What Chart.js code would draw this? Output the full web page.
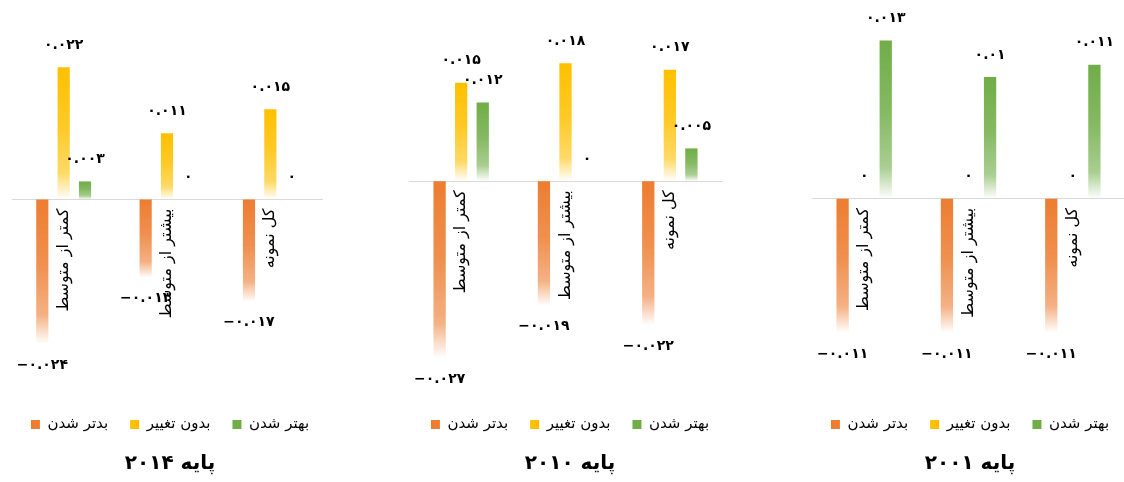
<!DOCTYPE html>
<html><head><meta charset="utf-8">
<script src="https://cdn.jsdelivr.net/npm/chart.js@4.4.1/dist/chart.umd.min.js"></script>
<style>
html,body{margin:0;padding:0;background:#fff;}
body{width:1124px;height:482px;position:relative;overflow:hidden;}
.p{position:absolute;top:0;height:482px;}
</style></head><body>
<div class="p" style="left:0px;width:340px"><canvas id="c1"></canvas></div>
<div class="p" style="left:390px;width:360px"><canvas id="c2"></canvas></div>
<div class="p" style="left:800px;width:340px"><canvas id="c3"></canvas></div>
<script>
const categories = ['کمتر از متوسط', 'بیشتر از متوسط', 'کل نمونه'];
const seriesNames = ['بدتر شدن', 'بدون تغییر', 'بهتر شدن'];
const panelTitles = ['پایه ۲۰۱۴', 'پایه ۲۰۱۰', 'پایه ۲۰۰۱'];

const worse2014  = [-0.024, -0.013, -0.017];
const same2014   = [0.022, 0.011, 0.015];
const better2014 = [0.003, 0, 0];

const worse2010  = [-0.027, -0.019, -0.022];
const same2010   = [0.015, 0.018, 0.017];
const better2010 = [0.012, 0, 0.005];

const worse2001  = [-0.011, -0.011, -0.011];
const same2001   = [0, 0, 0];
const better2001 = [0.013, 0.01, 0.011];

const yRange2014 = [-0.0325, 0.0315];
const yRange2010 = [-0.0326, 0.0261];
const yRange2001 = [-0.0161, 0.0155];

const colors = [[237,125,49],[255,192,0],[112,173,71]];
const FONT = '"DejaVu Sans", sans-serif';

function rgba(c, a){ return 'rgba(' + c[0] + ',' + c[1] + ',' + c[2] + ',' + a + ')'; }
function toFa(v){
  return String(v).replace('-', '\u2212').replace(/\d/g, d => '۰۱۲۳۴۵۶۷۸۹'[+d]);
}
function gradFill(col){
  return (c) => {
    const chart = c.chart;
    if (c.type !== 'data' || !chart.chartArea || !chart.scales.y) return rgba(col,1);
    const ys = chart.scales.y;
    const p0 = ys.getPixelForValue(0), p1 = ys.getPixelForValue(c.raw);
    const top = Math.min(p0,p1), bot = Math.max(p0,p1);
    if (bot - top < 1) return rgba(col,1);
    const g = chart.ctx.createLinearGradient(0, top, 0, bot);
    g.addColorStop(0, rgba(col,1));
    g.addColorStop(0.45, rgba(col,0.85));
    g.addColorStop(0.8, rgba(col,0.6));
    g.addColorStop(1, rgba(col,0.0));
    return g;
  };
}

const valueLabels = {
  id: 'valueLabels',
  afterDatasetsDraw(chart){
    const ctx = chart.ctx;
    ctx.save();
    ctx.font = 'bold 14px ' + FONT;
    ctx.fillStyle = '#000';
    ctx.textAlign = 'center';
    ctx.textBaseline = 'middle';
    ctx.direction = 'ltr';
    chart.data.datasets.forEach((ds, i) => {
      const meta = chart.getDatasetMeta(i);
      meta.data.forEach((bar, j) => {
        const v = ds.data[j];
        const y = v < 0 ? bar.y + 21 : bar.y - 22;
        ctx.fillText(toFa(v), bar.x, y);
      });
    });
    ctx.restore();
  }
};

function spacerAxis(pos, w){
  return {
    position: pos, display: true, min: 0, max: 1,
    grid: { display: false }, border: { display: false },
    ticks: { display: false },
    afterFit: (s) => { s.width = w; }
  };
}

function makeChart(id, worse, same, better, yRange, title, padL, padR){
  const series = [worse, same, better];
  new Chart(document.getElementById(id), {
    type: 'bar',
    data: {
      labels: categories,
      datasets: series.map((d, i) => ({
        label: seriesNames[i],
        data: d,
        backgroundColor: gradFill(colors[i]),
        borderWidth: 0,
        barPercentage: 0.57,
        categoryPercentage: 0.62
      }))
    },
    options: {
      responsive: true,
      maintainAspectRatio: false,
      animation: false,
      layout: { padding: { left: 0, right: 0, top: 10, bottom: 0 } },
      scales: {
        x: {
          position: { y: 0 },
          grid: { display: true, drawOnChartArea: false, drawTicks: false, color: 'rgba(0,0,0,0)' },
          border: { display: true, color: '#d9d9d9', width: 1 },
          ticks: {
            autoSkip: false, minRotation: 90, maxRotation: 90, padding: 9,
            color: '#000', font: { family: FONT, size: 16 }
          }
        },
        y: {
          position: 'left', display: true, min: yRange[0], max: yRange[1],
          grid: { display: false }, border: { display: false }, ticks: { display: false },
          afterFit: (s) => { s.width = padL; }
        },
        padRight: spacerAxis('right', padR)
      },
      plugins: {
        tooltip: { enabled: false },
        legend: {
          position: 'bottom',
          labels: {
            boxWidth: 9, boxHeight: 9, padding: 22, color: '#000',
            font: { family: FONT, size: 15 },
            generateLabels: (chart) => chart.data.datasets.map((ds, i) => ({
              text: ds.label, fillStyle: rgba(colors[i],1), strokeStyle: rgba(colors[i],1),
              lineWidth: 0, hidden: false, datasetIndex: i
            }))
          }
        },
        title: {
          display: true, text: title, position: 'bottom', color: '#000',
          font: { family: FONT, size: 20, weight: 'bold' },
          padding: { top: 10, bottom: 6 }
        }
      }
    },
    plugins: [valueLabels]
  });
}

makeChart('c1', worse2014, same2014, better2014, yRange2014, panelTitles[0], 12, 18);
makeChart('c2', worse2010, same2010, better2010, yRange2010, panelTitles[1], 19, 28);
makeChart('c3', worse2001, same2001, better2001, yRange2001, panelTitles[2], 12, 15);
</script>
</body></html>
